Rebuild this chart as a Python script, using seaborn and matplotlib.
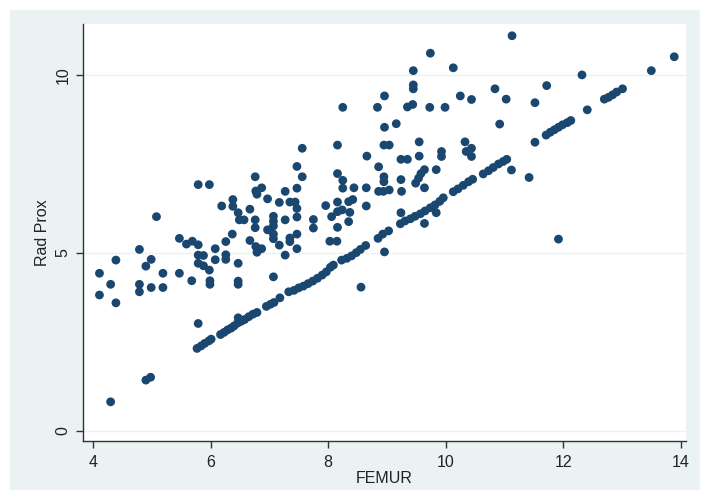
import matplotlib
matplotlib.use("Agg")
import matplotlib.pyplot as plt
import seaborn as sns
import pandas as pd
from matplotlib.patches import Rectangle

femur = [
    # left cluster
    4.11, 4.11, 4.30, 4.39, 4.39, 4.79, 4.79, 4.79, 4.90, 4.99, 4.99, 5.08, 5.19, 5.19, 5.47, 5.47,
    4.30, 4.90, 4.98,
    5.59, 5.69, 5.79, 5.68, 5.79, 5.88, 5.79, 5.88, 5.98, 6.08, 6.08, 5.99, 5.99, 5.79, 5.98, 5.79,
    5.77, 5.84, 5.90, 5.97, 6.01,
    # 6.1 - 7.6 upper
    6.19, 6.38, 6.38, 6.47, 6.49, 6.57, 6.67, 6.76, 6.76, 6.76, 6.77, 6.87, 6.79, 6.97, 7.07, 7.07,
    7.07, 7.17, 7.27, 7.35, 7.44, 7.47, 7.47, 7.47, 7.27, 7.47, 7.56, 7.56,
    6.26, 6.26, 6.26, 6.37, 6.47, 6.47, 6.47, 6.67, 6.77, 6.87, 6.79, 6.97, 7.07, 7.07, 7.17, 7.27,
    7.35, 7.35, 7.47, 7.47, 7.07, 7.75, 7.75, 7.96,
    # line 6.1 - 8.1
    6.17, 6.23, 6.29, 6.35, 6.40, 6.46, 6.52, 6.58, 6.65, 6.72, 6.79, 6.95, 7.02, 7.08, 7.18, 7.33,
    7.42, 7.50, 7.58, 7.66, 7.74, 7.82, 7.90, 7.97, 8.04, 8.09, 6.47,
    # 8 - 9
    8.16, 8.25, 8.16, 8.25, 8.25, 8.44, 8.65, 8.66, 8.86, 8.84, 8.96, 8.96, 9.16, 8.95, 9.04, 8.95,
    8.95, 8.86, 8.94, 9.04, 9.25,
    8.06, 8.16, 8.16, 8.24, 8.35, 8.42, 8.37, 8.35, 8.16, 8.03, 8.15, 8.65,
    8.23, 8.32, 8.40, 8.48, 8.55, 8.64, 8.85, 8.93, 9.03,
    8.56, 8.96,
    # 9 - 10
    9.24, 9.35, 9.24, 9.24, 9.35, 9.44, 9.45, 9.45, 9.45, 9.55, 9.55, 9.64, 9.58, 9.54, 9.49, 9.64,
    9.64, 9.74, 9.73, 9.84, 9.84, 9.93, 9.93, 9.99,
    9.23, 9.31, 9.40, 9.48, 9.57, 9.65, 9.74, 9.82, 9.90, 9.96, 10.13, 10.21, 10.30, 10.39, 10.46,
    # 10 - 11
    10.13, 10.25, 10.44, 10.33, 10.35, 10.44, 10.44, 10.84, 10.92, 11.03, 11.13, 11.12,
    10.64, 10.73, 10.81, 10.90, 10.98, 11.04,
    # 11 - 14
    11.42, 11.52, 11.52, 11.72, 11.92, 12.32, 12.41, 13.50, 13.89,
    11.71, 11.78, 11.85, 11.92, 11.99, 12.07, 12.13, 12.70, 12.77, 12.84, 12.91, 13.01,
]

rad_prox = [
    4.43, 3.82, 4.12, 4.80, 3.60, 5.10, 4.12, 3.91, 4.63, 4.82, 4.03, 6.02, 4.43, 4.03, 5.41, 4.43,
    0.82, 1.43, 1.51,
    5.25, 5.33, 5.23, 4.22, 4.94, 4.93, 4.71, 4.64, 4.52, 5.12, 4.81, 4.22, 4.12, 6.92, 6.92, 3.02,
    2.32, 2.39, 2.46, 2.53, 2.58,
    6.32, 6.50, 6.31, 6.13, 5.93, 5.93, 6.23, 5.93, 5.71, 7.14, 6.74, 6.83, 6.65, 6.52, 6.03, 5.89,
    5.76, 6.42, 6.73, 6.43, 6.43, 6.82, 6.25, 6.01, 5.93, 7.43, 7.94, 7.14,
    5.32, 4.95, 4.82, 5.53, 4.71, 4.21, 4.12, 5.35, 5.18, 5.12, 5.02, 5.65, 5.53, 5.40, 5.22, 4.94,
    5.42, 5.32, 5.53, 5.12, 4.33, 5.94, 5.70, 6.33,
    2.71, 2.77, 2.84, 2.89, 2.95, 3.03, 3.08, 3.13, 3.21, 3.28, 3.33, 3.50, 3.56, 3.61, 3.74, 3.91,
    3.95, 4.02, 4.07, 4.14, 4.21, 4.29, 4.38, 4.47, 4.60, 4.66, 3.18,
    8.03, 9.09, 7.23, 7.04, 6.82, 6.83, 6.83, 7.72, 7.42, 9.09, 9.41, 8.53, 8.63, 8.03, 8.03, 7.14,
    7.00, 6.73, 6.73, 6.77, 6.73,
    6.02, 6.43, 6.16, 6.21, 6.44, 6.50, 6.14, 5.88, 5.72, 5.33, 5.33, 6.32,
    4.80, 4.85, 4.92, 5.01, 5.10, 5.21, 5.41, 5.53, 5.62,
    4.04, 5.03,
    7.63, 7.63, 7.06, 6.13, 9.10, 9.17, 9.72, 9.61, 10.12, 8.12, 7.72, 7.34, 7.23, 7.10, 6.96, 6.83,
    5.83, 10.61, 9.09, 7.34, 6.13, 7.85, 7.71, 9.09,
    5.82, 5.90, 5.96, 6.03, 6.10, 6.18, 6.27, 6.35, 6.45, 6.55, 6.72, 6.80, 6.90, 7.00, 7.07,
    10.20, 9.41, 9.31, 8.12, 7.85, 7.94, 7.71, 9.61, 8.62, 9.32, 11.10, 7.33,
    7.22, 7.31, 7.40, 7.50, 7.57, 7.63,
    7.12, 8.11, 9.22, 9.70, 5.39, 10.00, 9.02, 10.12, 10.51,
    8.31, 8.39, 8.46, 8.53, 8.60, 8.66, 8.72, 9.32, 9.37, 9.44, 9.52, 9.61,
]

x_ticks = [4, 6, 8, 10, 12, 14]
y_ticks = [0, 5, 10]
x_label = "FEMUR"
y_label = "Rad Prox"

df = pd.DataFrame({"FEMUR": femur, "Rad Prox": rad_prox})

sns.set_style("white")
plt.rcParams["font.family"] = ["Liberation Sans", "DejaVu Sans"]

W, H = 707, 500
fig = plt.figure(figsize=(W / 100, H / 100), dpi=100, facecolor="white")
# light blue-grey graph region
bg = Rectangle((10 / W, 10 / H), 690 / W, 480 / H, transform=fig.transFigure,
               facecolor="#eaf2f3", edgecolor="none", zorder=-10)
fig.add_artist(bg)

ax = fig.add_axes([83 / W, 1 - 441 / H, (686 - 83) / W, (441 - 24) / H])
ax.set_zorder(5)
ax.set_facecolor("white")

for yt in y_ticks:
    ax.axhline(yt, color="#eaf2f3", lw=1.0, zorder=0)

sns.scatterplot(data=df, x="FEMUR", y="Rad Prox", ax=ax, color="#1a476f",
                s=40, linewidth=0, edgecolor="none", zorder=3)

ax.set_xlim(3.83, 14.09)
ax.set_ylim(-0.28, 11.43)
ax.set_xticks(x_ticks)
ax.set_yticks(y_ticks)
ax.set_xticklabels([str(t) for t in x_ticks], fontsize=11.5, color="#222222")
ax.set_yticklabels([str(t) for t in y_ticks], fontsize=11.5, color="#222222",
                   rotation=90, va="center")
ax.set_xlabel(x_label, fontsize=11.5, color="#222222", labelpad=1)
ax.set_ylabel(y_label, fontsize=11.5, color="#222222", labelpad=4)

for side in ["top", "right"]:
    ax.spines[side].set_visible(False)
for side in ["left", "bottom"]:
    ax.spines[side].set_color("#333333")
    ax.spines[side].set_linewidth(1.0)
ax.tick_params(axis="x", direction="out", length=5, width=1.0, color="#333333", pad=5,
               bottom=True)
ax.tick_params(axis="y", direction="out", length=5, width=1.0, color="#333333", pad=4,
               left=True)

fig.savefig("out.png", dpi=100, facecolor="white")
